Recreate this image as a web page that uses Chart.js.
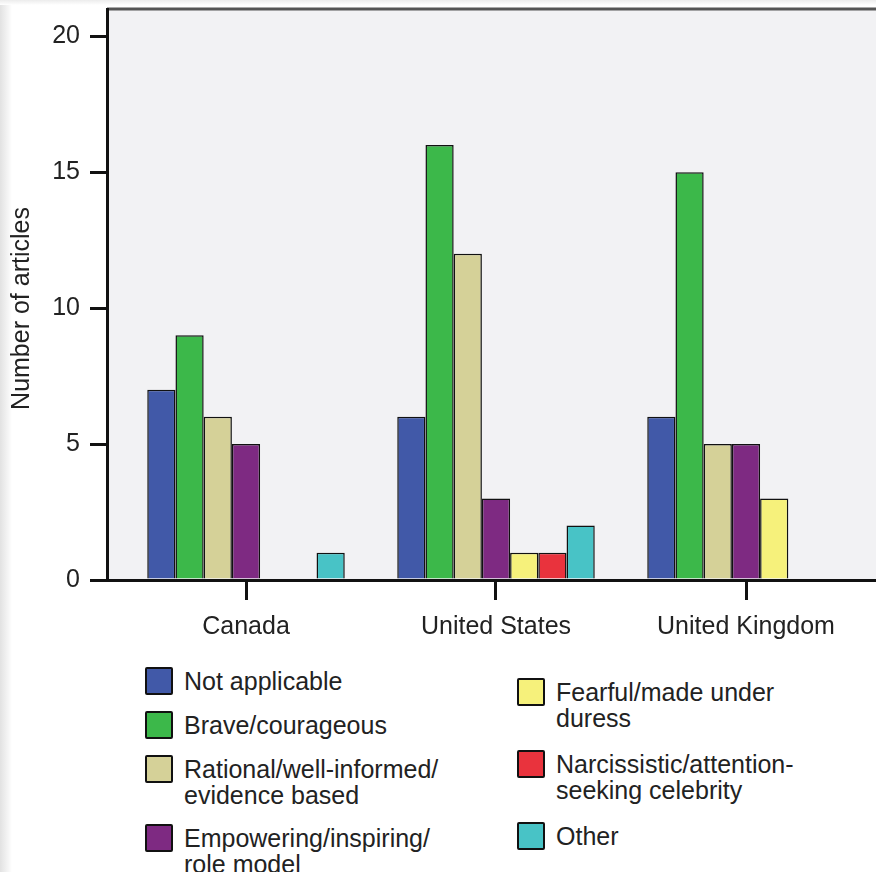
<!DOCTYPE html>
<html>
<head>
<meta charset="utf-8">
<script src="https://cdn.jsdelivr.net/npm/chart.js@4"></script>
<style>
  html, body { margin: 0; padding: 0; background: #fff; width: 876px; height: 872px; overflow: hidden; }
  body { position: relative; font-family: "Liberation Sans", Arial, sans-serif; color: #222; }
  #shadeLeft { position: absolute; left: 0; top: 0; width: 12px; height: 872px; background: linear-gradient(to right, #e2e2e2, #f6f6f6 70%, #fff); }
  #shadeTop { position: absolute; left: 0; top: 0; width: 876px; height: 5px; background: linear-gradient(to bottom, #ececec, #fff); }
  #chart { position: absolute; left: 0; top: 0; }
  .legend-col { position: absolute; }
  .legend-item { display: flex; align-items: flex-start; font-size: 25px; line-height: 26px; }
  .legend-box { width: 24px; height: 24px; border: 2px solid #111; border-radius: 2px; margin-top: -1px; margin-right: 11px; flex: none; }
</style>
</head>
<body>
<div id="shadeLeft"></div>
<div id="shadeTop"></div>
<canvas id="chart" width="876" height="650"></canvas>
<div class="legend-col" id="legendLeft" style="left:145px; top:668px;"></div>
<div class="legend-col" id="legendRight" style="left:517px; top:679px;"></div>
<script>
// categories and series
const countries = ['Canada', 'United States', 'United Kingdom'];
const seriesNames = [
    ['Not applicable'],
    ['Brave/courageous'],
    ['Rational/well-informed/', 'evidence based'],
    ['Empowering/inspiring/', 'role model'],
    ['Fearful/made under', 'duress'],
    ['Narcissistic/attention-', 'seeking celebrity'],
    ['Other']
];
const notApplicable = [7, 6, 6];
const brave = [9, 16, 15];
const rational = [6, 12, 5];
const empowering = [5, 3, 5];
const fearful = [0, 1, 3];
const narcissistic = [0, 1, 0];
const other = [1, 2, 0];
const yTickValues = [0, 5, 10, 15, 20];
const yTitle = 'Number of articles';

const seriesValues = [notApplicable, brave, rational, empowering, fearful, narcissistic, other];
const seriesColors = ['#4159a8', '#3cb84a', '#d5d198', '#7e2a82', '#f6f17b', '#e9333d', '#48c3c6'];

Chart.defaults.font.family = '"Liberation Sans", Arial, sans-serif';
Chart.defaults.font.size = 25;
Chart.defaults.color = '#222';

// plot background, top frame line and the y title (sits a bit below centre in the original)
const plotFrame = {
    id: 'plotFrame',
    beforeDraw(chart) {
        const { ctx, chartArea: a } = chart;
        ctx.save();
        ctx.fillStyle = '#f2f2f4';
        ctx.fillRect(a.left, a.top, a.right - a.left, a.bottom - a.top);
        ctx.strokeStyle = '#555';
        ctx.lineWidth = 3;
        ctx.beginPath();
        ctx.moveTo(a.left, a.top);
        ctx.lineTo(a.right, a.top);
        ctx.stroke();
        ctx.restore();
    },
    afterDraw(chart) {
        const { ctx, chartArea: a } = chart;
        ctx.save();
        ctx.translate(22, (a.top + a.bottom) / 2 + 14);
        ctx.rotate(-Math.PI / 2);
        ctx.font = '25px "Liberation Sans", Arial, sans-serif';
        ctx.fillStyle = '#222';
        ctx.textAlign = 'center';
        ctx.textBaseline = 'middle';
        ctx.fillText(yTitle, 0, 0);
        ctx.restore();
    }
};

const datasets = seriesValues.map((vals, i) => ({
    label: seriesNames[i].join(''),
    data: vals.map((v, j) => ({ x: j, y: v })),
    backgroundColor: seriesColors[i],
    borderColor: '#111',
    borderWidth: 1.5,
    borderSkipped: 'start'
}));

new Chart(document.getElementById('chart'), {
    type: 'bar',
    data: { datasets: datasets },
    options: {
        responsive: false,
        animation: false,
        layout: { padding: { top: 9, right: 0, bottom: 0, left: 0 } },
        datasets: { bar: { categoryPercentage: 0.79, barPercentage: 1 } },
        plugins: { legend: { display: false }, tooltip: { enabled: false } },
        scales: {
            x: {
                type: 'linear',
                min: -0.556,
                max: 2.52,
                offset: false,
                afterBuildTicks: scale => { scale.ticks = countries.map((c, i) => ({ value: i })); },
                afterFit: scale => { scale.height = 70; scale.paddingLeft = 0; scale.paddingRight = 0; },
                ticks: {
                    padding: 12,
                    maxRotation: 0,
                    autoSkip: false,
                    callback: value => countries[value]
                },
                grid: { display: true, drawOnChartArea: false, offset: false, tickLength: 20, color: '#111', lineWidth: 3 },
                border: { display: true, color: '#111', width: 3 }
            },
            y: {
                min: 0,
                max: 21,
                afterBuildTicks: scale => { scale.ticks = yTickValues.map(v => ({ value: v })); },
                afterFit: scale => { scale.width = 107; scale.paddingTop = 0; scale.paddingBottom = 0; },
                ticks: { padding: 10 },
                grid: { display: true, drawOnChartArea: false, tickLength: 17, color: '#111', lineWidth: 3 },
                border: { display: true, color: '#111', width: 3 }
            }
        }
    },
    plugins: [plotFrame]
});

// legend in two columns, built from the series
function legendItem(i, gap) {
    const item = document.createElement('div');
    item.className = 'legend-item';
    item.style.marginBottom = gap + 'px';
    const box = document.createElement('div');
    box.className = 'legend-box';
    box.style.background = seriesColors[i];
    const text = document.createElement('div');
    text.innerHTML = seriesNames[i].join('<br>');
    item.appendChild(box);
    item.appendChild(text);
    return item;
}
const leftCol = document.getElementById('legendLeft');
const rightCol = document.getElementById('legendRight');
[0, 1, 2, 3].forEach(i => leftCol.appendChild(legendItem(i, 17)));
[4, 5, 6].forEach(i => rightCol.appendChild(legendItem(i, 20)));
</script>
</body>
</html>
